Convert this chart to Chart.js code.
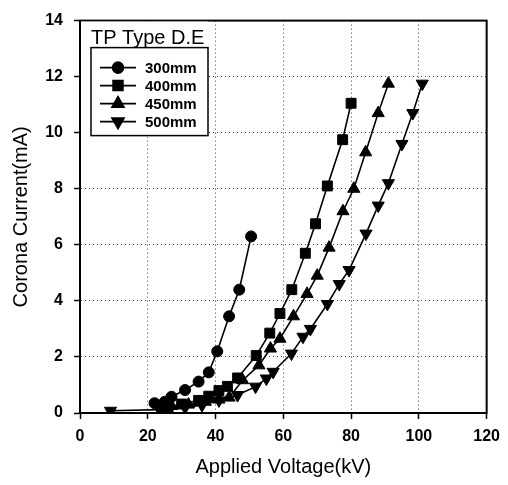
<!DOCTYPE html>
<html>
<head>
<meta charset="utf-8">
<script src="https://cdn.jsdelivr.net/npm/chart.js"></script>
<style>
  html, body { margin: 0; padding: 0; background: #fff; }
  #wrap { width: 508px; height: 485px; }
</style>
</head>
<body>
<div id="wrap"><canvas id="chart"></canvas></div>
<script>
// data
const seriesLabels = ['300mm', '400mm', '450mm', '500mm'];

const v300 = [22, 25, 27, 31, 35, 38, 40.5, 44, 47, 50.5];
const i300 = [0.35, 0.4, 0.58, 0.82, 1.12, 1.45, 2.2, 3.45, 4.4, 6.3];

const v400 = [24, 26, 30, 35, 38, 41, 43.5, 46.5, 52, 56, 59, 62.5, 66.5, 69.5, 73, 77.5, 80];
const i400 = [0.1, 0.2, 0.32, 0.45, 0.6, 0.8, 0.95, 1.25, 2.05, 2.85, 3.55, 4.4, 5.7, 6.75, 8.1, 9.75, 11.05];

const v450 = [25, 27, 32, 37, 41, 44, 48, 52.8, 56.2, 59, 63, 67, 70, 73.5, 77.6, 80.8, 84.3, 88, 91];
const i450 = [0.12, 0.25, 0.3, 0.4, 0.48, 0.55, 1.17, 1.7, 2.3, 2.65, 3.45, 4.25, 4.9, 5.9, 7.2, 8.0, 9.3, 10.7, 11.75];

const v500 = [9, 24, 31, 36, 41, 46.5, 51.8, 55, 57, 62.4, 65.8, 68, 73, 76.5, 79.4, 84.4, 88, 91, 95, 98.2, 101];
const i500 = [0.08, 0.12, 0.2, 0.28, 0.45, 0.64, 0.94, 1.23, 1.47, 2.12, 2.72, 3.0, 3.89, 4.6, 5.1, 6.4, 7.4, 8.2, 9.6, 10.7, 11.75];

const xTicks = [0, 20, 40, 60, 80, 100, 120];
const yTicks = [0, 2, 4, 6, 8, 10, 12, 14];

const legendTitle = 'TP Type D.E';
const xTitle = 'Applied Voltage(kV)';
const yTitle = 'Corona Current(mA)';

const FONT = '"Liberation Sans", Arial, sans-serif';

function pts(xs, ys) {
    return xs.map((x, i) => ({ x: x, y: ys[i] }));
}

const markers = [
    { pointStyle: 'circle', radius: 5.5, rotation: 0 },
    { pointStyle: 'rect', radius: 7, rotation: 0 },
    { pointStyle: 'triangle', radius: 7, rotation: 0 },
    { pointStyle: 'triangle', radius: 7, rotation: 180 }
];

const allSeries = [pts(v300, i300), pts(v400, i400), pts(v450, i450), pts(v500, i500)];

const datasets = allSeries.map((d, k) => ({
    label: seriesLabels[k],
    data: d,
    showLine: true,
    tension: 0,
    borderColor: '#000',
    borderWidth: 1.6,
    backgroundColor: '#000',
    pointStyle: markers[k].pointStyle,
    pointRadius: markers[k].radius,
    pointRotation: markers[k].rotation,
    pointBorderWidth: 1,
    pointHoverRadius: markers[k].radius
}));

// frame on top / right plus boxed legend inside the plot
const framePlugin = {
    id: 'frame',
    beforeDatasetsDraw(chart) {
        const { ctx, chartArea: a } = chart;
        ctx.save();
        ctx.strokeStyle = '#000';
        ctx.lineWidth = 2;
        ctx.strokeRect(a.left, a.top, a.right - a.left, a.bottom - a.top);
        ctx.restore();
    },
    afterDraw(chart) {
        const { ctx, chartArea: a } = chart;
        ctx.save();
        // white out grid behind title + legend
        ctx.fillStyle = '#fff';
        ctx.fillRect(a.left + 1, a.top + 1, 127, 115);
        // title
        ctx.fillStyle = '#000';
        ctx.font = '20px ' + FONT;
        ctx.textBaseline = 'alphabetic';
        ctx.textAlign = 'left';
        ctx.fillText(legendTitle, a.left + 11, a.top + 23);
        // legend box
        const bx = a.left + 11, by = a.top + 27, bw = 117, bh = 88;
        ctx.strokeStyle = '#000';
        ctx.lineWidth = 1.5;
        ctx.strokeRect(bx, by, bw, bh);
        ctx.font = 'bold 15px ' + FONT;
        ctx.textBaseline = 'middle';
        chart.data.datasets.forEach((ds, k) => {
            const y = by + 20 + k * 18;
            ctx.beginPath();
            ctx.lineWidth = 1.6;
            ctx.moveTo(bx + 9, y);
            ctx.lineTo(bx + 45, y);
            ctx.stroke();
            Chart.helpers.drawPoint(ctx, {
                pointStyle: ds.pointStyle,
                rotation: ds.pointRotation,
                radius: ds.pointRadius,
                borderWidth: 1
            }, bx + 27, y);
            ctx.fill();
            ctx.fillText(ds.label, bx + 54, y + 1);
        });
        ctx.restore();
    }
};

const ctx = document.getElementById('chart').getContext('2d');
new Chart(ctx, {
    type: 'scatter',
    data: { datasets: datasets },
    plugins: [framePlugin],
    options: {
        responsive: true,
        maintainAspectRatio: false,
        animation: false,
        layout: { padding: { top: 15, right: 15, left: 0, bottom: 0 } },
        plugins: {
            legend: { display: false },
            tooltip: { enabled: false }
        },
        scales: {
            x: {
                type: 'linear',
                min: 0,
                max: 120,
                afterBuildTicks: (scale) => { scale.ticks = xTicks.map(v => ({ value: v })); },
                afterFit: (scale) => { scale.height = 72; },
                grid: {
                    color: '#444',
                    lineWidth: 1,
                    tickLength: 6,
                    tickColor: '#000',
                    tickWidth: 1.5
                },
                border: { color: '#000', width: 2, dash: [1, 3] },
                ticks: {
                    color: '#000',
                    padding: 8,
                    maxRotation: 0,
                    font: { family: FONT, size: 16, weight: 'bold' }
                },
                title: {
                    display: true,
                    text: xTitle,
                    color: '#000',
                    padding: { top: 0, bottom: 6 },
                    font: { family: FONT, size: 20 }
                }
            },
            y: {
                type: 'linear',
                min: 0,
                max: 14,
                afterBuildTicks: (scale) => { scale.ticks = yTicks.map(v => ({ value: v })); },
                afterFit: (scale) => { scale.width = 80; },
                grid: {
                    color: '#444',
                    lineWidth: 1,
                    tickLength: 6,
                    tickColor: '#000',
                    tickWidth: 1.5
                },
                border: { color: '#000', width: 2, dash: [1, 3] },
                ticks: {
                    color: '#000',
                    padding: 11,
                    font: { family: FONT, size: 16, weight: 'bold' }
                },
                title: {
                    display: true,
                    text: yTitle,
                    color: '#000',
                    padding: { top: 9, bottom: 0 },
                    font: { family: FONT, size: 20 }
                }
            }
        }
    }
});
</script>
</body>
</html>
